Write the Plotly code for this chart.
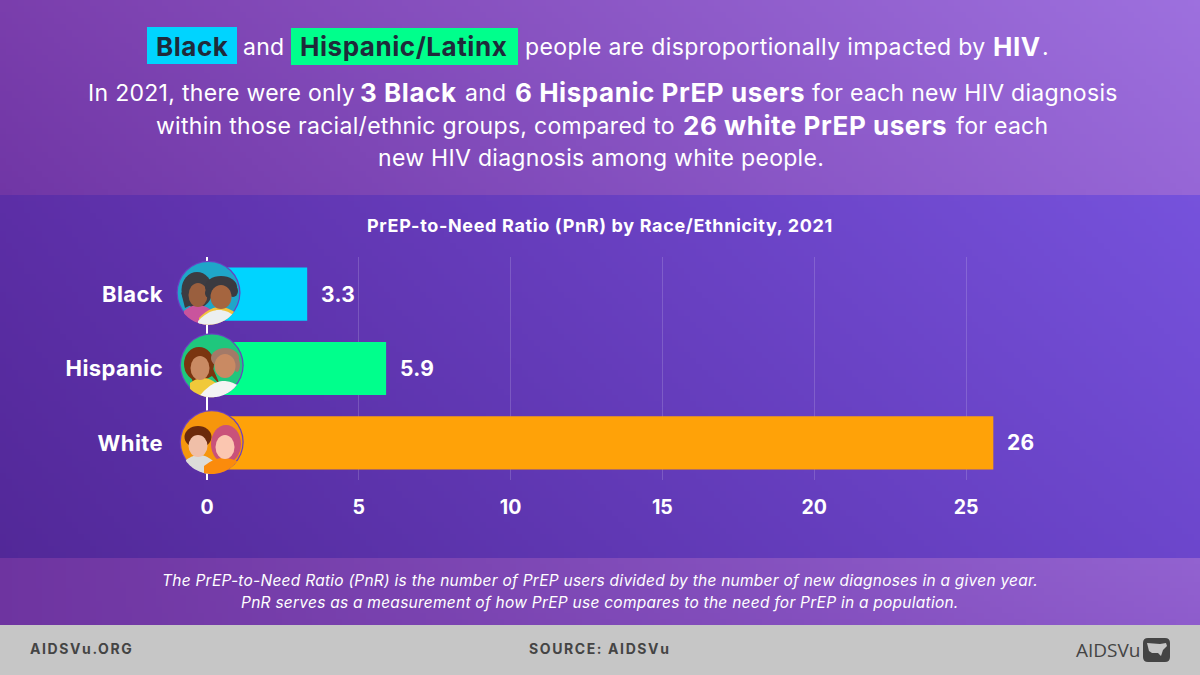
import numpy as np
import plotly.graph_objects as go

# ---------- data ----------
categories = ["Black", "Hispanic", "White"]
pnr_values = [3.3, 5.9, 25.9]
pnr_labels = ["3.3", "5.9", "26"]
bar_colors = ["#00d4ff", "#00ff8c", "#ffa208"]
x_ticks = [0, 5, 10, 15, 20, 25]

FONT = "Inter"
WHITE = "#ffffff"
DARK = "#1f2a3a"
GREY = "#444444"

fig = go.Figure()


def sp(s, ls):
    return f'<span style="letter-spacing:{ls}px">{s}</span>'


# ---------- background bands (decoration, on a pixel axis) ----------
def band(y0, y1, tl, tr, bl, br, cell=6):
    nx = 200
    ny = max(2, int(round((y1 - y0) / cell)))
    dy = (y1 - y0) / ny
    tl, tr, bl, br = [np.array(c, float) for c in (tl, tr, bl, br)]
    u = (np.arange(nx) + 0.5) / nx
    v = (np.arange(ny) + 0.5) / ny
    U, V = np.meshgrid(u, v)
    img = ((1 - U)[..., None] * (1 - V)[..., None] * tl + U[..., None] * (1 - V)[..., None] * tr
           + (1 - U)[..., None] * V[..., None] * bl + U[..., None] * V[..., None] * br)
    fig.add_trace(go.Image(z=np.round(img).astype(int).tolist(), x0=3, dx=6, y0=y0 + dy / 2, dy=dy,
                           xaxis="x", yaxis="y", hoverinfo="skip", colormodel="rgb"))


band(0, 195, (122, 62, 172), (157, 112, 222), (112, 54, 165), (150, 102, 214))
band(195, 558, (92, 46, 166), (118, 82, 220), (82, 40, 152), (108, 70, 204))
band(558, 625, (110, 52, 160), (146, 98, 208), (110, 52, 160), (142, 92, 204))

# ---------- bars ----------
fig.add_trace(go.Bar(
    x=pnr_values, y=categories, orientation="h", xaxis="x2", yaxis="y2",
    marker=dict(color=bar_colors, line=dict(width=0)), width=0.715, hoverinfo="skip",
))

# ---------- shapes ----------
shapes = []


def rect(x0, y0, x1, y1, color, layer="above"):
    shapes.append(dict(type="rect", xref="x", yref="y", x0=x0, y0=y0, x1=x1, y1=y1,
                       fillcolor=color, line=dict(width=0), layer=layer))


def circ(cx, cy, rx, ry=None, color="#000", line=None):
    ry = rx if ry is None else ry
    shapes.append(dict(type="circle", xref="x", yref="y", x0=cx - rx, x1=cx + rx, y0=cy - ry, y1=cy + ry,
                       fillcolor=color, line=line or dict(width=0), layer="above"))


def path(d, color):
    shapes.append(dict(type="path", xref="x", yref="y", path=d, fillcolor=color,
                       line=dict(width=0), layer="above"))


rect(0, 625, 1200, 675, "#c6c6c6")
rect(147, 27, 237, 64, "#00d4ff")
rect(291, 28, 518, 65, "#00ff8c")


def shirt(av, x0, x1, xm, ytop, color, k=0.06):
    """Shoulders: a parabola on top, clipped at the bottom by the avatar circle."""
    cx, cy, r = av
    xs = np.linspace(x0, x1, 28)
    xs = xs[np.abs(xs - cx) < r]
    top = np.minimum(ytop + k * (xs - xm) ** 2, cy + np.sqrt(r ** 2 - (xs - cx) ** 2))
    bot = cy + np.sqrt(r ** 2 - (xs - cx) ** 2)
    pts = list(zip(xs, top)) + list(zip(xs[::-1], bot[::-1]))
    path("M" + " L".join(f"{a:.1f},{b:.1f}" for a, b in pts) + " Z", color)


def avatar(av, bg):
    cx, cy, r = av
    circ(cx, cy, r, color="#6a3fc0")
    circ(cx, cy, r - 1.2, color=bg)


# Black couple
A = (208.5, 292.7, 32)
avatar(A, "#1fa6c9")
circ(197, 290, 15.5, 18, "#3c3c42")
path("M181,292 L185,308 L193,304 Z", "#3c3c42")
shirt(A, 184, 212, 198, 305, "#c9549d", 0.03)
circ(198, 295, 9.5, 12, "#9a5f3e")
circ(221, 287, 16, 11, "#3a3a40")
circ(233, 291, 5, 6, "#3a3a40")
circ(209, 293, 4, 5, "#3a3a40")
shirt(A, 199, 240, 220, 307, "#f3c33e", 0.025)
shirt(A, 198, 240, 219, 310, "#eceff0", 0.025)
circ(221, 297, 10.5, 12, "#a5653f")
# Hispanic couple
A = (211.7, 365.3, 32)
avatar(A, "#1fc77d")
circ(199, 364, 15, 17, "#7a3510")
path("M189,370 L194,386 L212,376 L220,385 L212,366 Z", "#7a3510")
shirt(A, 190, 216, 203, 378, "#f0c93a", 0.03)
circ(200, 368, 9.5, 12, "#c98a63")
circ(225, 358, 14, 10, "#a37a68")
circ(237, 365, 3, 7, "#a37a68")
shirt(A, 200, 240, 224, 381, "#f3f4f3", 0.025)
circ(225, 366, 10.5, 12, "#c98a63")
# White couple
A = (211.7, 442, 32)
avatar(A, "#f6960c")
circ(198, 437, 13.5, 11, "#6b2a0c")
shirt(A, 186, 214, 199, 455, "#dcdcd8", 0.03)
circ(198, 446, 9.5, 11, "#f0bfa8")
circ(226, 444, 15, 19, "#c9527a")
shirt(A, 204, 243, 224, 458, "#fb8b0c", 0.02)
circ(225, 447, 9.5, 12, "#fbc6b0")

# logo
path("M1148,638 L1165,638 Q1170,638 1170,643 L1170,657 Q1170,662 1165,662 L1148,662 Q1143,662 1143,657 "
     "L1143,643 Q1143,638 1148,638 Z", "#444444")
path("M1147,643 L1160,644 L1166,643 L1167,646 L1163,650 L1161,656 L1158,653 L1152,653 L1149,651 Z", "#c6c6c6")

# ---------- text ----------
ann = []


def t(x, y, s, size=23, color=WHITE, anchor="left", bold=False, italic=False, font=FONT,
      ref=("x", "y"), xshift=0, ls=0.0):
    if ls:
        s = sp(s, ls)
    if bold:
        s = f"<b>{s}</b>"
    if italic:
        s = f"<i>{s}</i>"
    ann.append(dict(x=x, y=y, xref=ref[0], yref=ref[1], text=s, showarrow=False, xanchor=anchor, yanchor="middle",
                    xshift=xshift, font=dict(family=font, size=size, color=color), align=anchor))


REG = dict(size=23, ls=0.3)
BLD = dict(size=26, bold=True, ls=0.55)
t(192, 46, "Black", color=DARK, anchor="center", **BLD)
t(264, 47, "and", anchor="center", **REG)
t(403, 46, "Hispanic/Latinx", color=DARK, anchor="center", **BLD)
t(523, 47, "people are disproportionally impacted by", size=23, ls=0.4)
t(991, 46, "HIV", **BLD)
t(1040, 47, ".", **REG)
t(86, 93, "In 2021, there were only", **REG)
t(358, 92, "3 Black", **BLD)
t(463, 93, "and", **REG)
t(513, 92, "6 Hispanic PrEP users", **BLD)
t(810, 93, "for each new HIV diagnosis", **REG)
t(154, 126, "within those racial/ethnic groups, compared to", **REG)
t(681, 125, "26 white PrEP users", **BLD)
t(954, 126, "for each", **REG)
t(601, 158, "new HIV diagnosis among white people.", anchor="center", **REG)
t(600, 225, "PrEP-to-Need Ratio (PnR) by Race/Ethnicity, 2021", 18, anchor="center", bold=True, ls=0.65)
t(600, 580, "The PrEP-to-Need Ratio (PnR) is the number of PrEP users divided by the number of new diagnoses in a given year.",
  15.5, anchor="center", italic=True, ls=0.25)
t(600, 602, "PnR serves as a measurement of how PrEP use compares to the need for PrEP in a population.",
  15.5, anchor="center", italic=True, ls=0.25)
t(28, 648, "AIDSVu.ORG", 14, GREY, bold=True, ls=1.6)
t(599, 648, "SOURCE: AIDSVu", 14, GREY, "center", True, ls=1.6)
t(1074, 650, "AIDSVu", 19, GREY, font="Open Sans")

for cat, val, lab in zip(categories, pnr_values, pnr_labels):
    t(val, cat, lab, 21, anchor="left", bold=True, ref=("x2", "y2"), xshift=12, ls=0.3)

# ---------- layout ----------
fig.update_layout(
    width=1200, height=675, autosize=False, margin=dict(l=0, r=0, t=0, b=0, autoexpand=False), showlegend=False,
    paper_bgcolor="#5c2ea6", plot_bgcolor="rgba(0,0,0,0)", shapes=shapes, annotations=ann,
    xaxis=dict(range=[0, 1200], domain=[0, 1], visible=False, fixedrange=True),
    yaxis=dict(range=[675, 0], domain=[0, 1], visible=False, fixedrange=True, anchor="x"),
    xaxis2=dict(range=[0, 26.5], domain=[207 / 1200, (207 + 26.5 * 30.36) / 1200], anchor="y2",
                tickvals=x_ticks, showgrid=True, gridcolor="rgba(255,255,255,0.16)", gridwidth=1,
                zeroline=True, zerolinecolor="#ffffff", zerolinewidth=2, showline=False, ticks="",
                ticklabelstandoff=13, tickfont=dict(family=FONT, size=19.5, color=WHITE, weight="bold")),
    yaxis2=dict(type="category", categoryorder="array", categoryarray=categories, range=[2.5, -0.5],
                domain=[1 - 480 / 675, 1 - 257 / 675], anchor="x2", showgrid=False, zeroline=False, ticks="",
                tickvals=categories, ticktext=[sp(c, 0.4) for c in categories],
                ticklabelstandoff=43, tickfont=dict(family=FONT, size=22, color=WHITE, weight="bold")),
)

fig.write_html("out.html", config=dict(displayModeBar=False),
               post_script="document.body.style.margin='0';")
